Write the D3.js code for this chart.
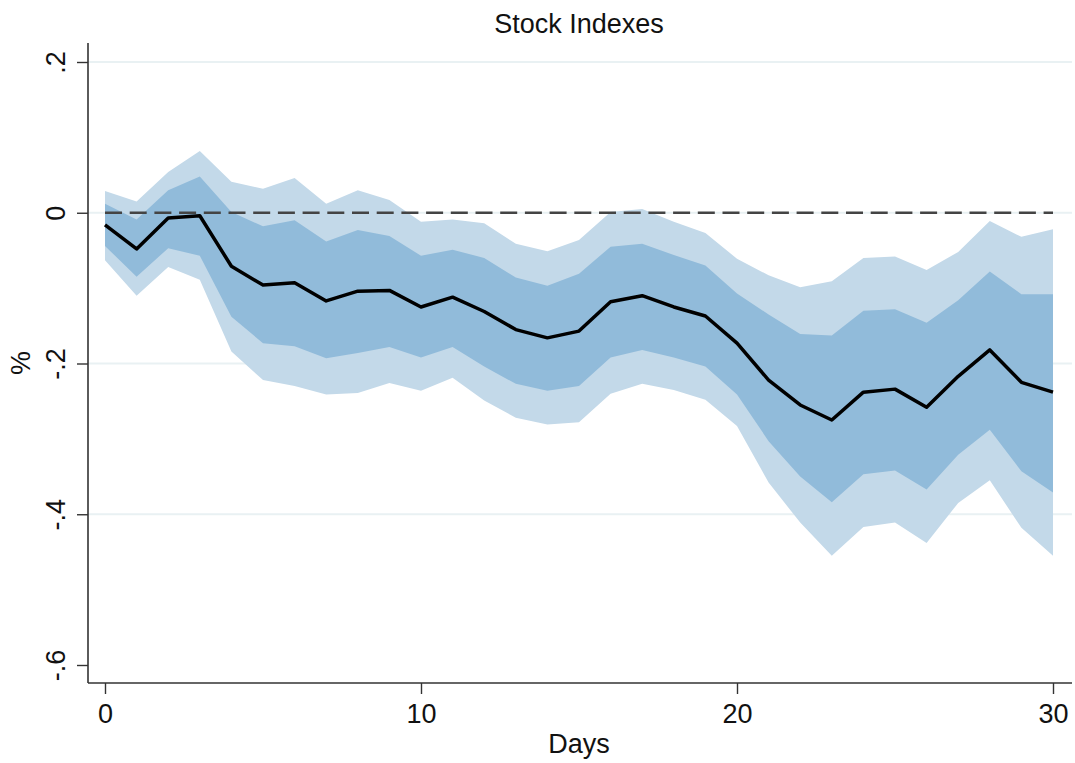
<!DOCTYPE html>
<html lang="en">
<head>
<meta charset="UTF-8">
<title>Stock Indexes</title>
<script src="https://d3js.org/d3.v7.min.js"></script>
<style>
  * { margin: 0; padding: 0; }
  body { background: #fff; font-family: "Liberation Sans", Arial, Helvetica, sans-serif; }
  svg text { fill: #111; }
</style>
</head>
<body>
<svg id="chart" width="1075" height="763"></svg>
<script>
// Days after the shock
const days = d3.range(0, 31);
// Point estimate (%)
const estimate = [-0.016, -0.048, -0.007, -0.004, -0.071, -0.096, -0.093, -0.117, -0.104, -0.103,
  -0.125, -0.112, -0.131, -0.155, -0.166, -0.157, -0.118, -0.110, -0.125, -0.137,
  -0.173, -0.222, -0.255, -0.275, -0.238, -0.234, -0.258, -0.217, -0.182, -0.225, -0.238];
// Inner band (darker)
const innerUpper = [0.012, -0.009, 0.030, 0.048, 0.001, -0.018, -0.010, -0.038, -0.023, -0.031,
  -0.057, -0.049, -0.060, -0.086, -0.097, -0.081, -0.045, -0.041, -0.056, -0.070,
  -0.107, -0.135, -0.161, -0.163, -0.130, -0.128, -0.146, -0.116, -0.078, -0.108, -0.108];
const innerLower = [-0.044, -0.085, -0.047, -0.057, -0.138, -0.173, -0.177, -0.193, -0.186, -0.178,
  -0.192, -0.178, -0.204, -0.227, -0.236, -0.230, -0.192, -0.182, -0.192, -0.204,
  -0.241, -0.303, -0.350, -0.384, -0.347, -0.342, -0.367, -0.321, -0.288, -0.343, -0.371];
// Outer band (lighter)
const outerUpper = [0.029, 0.015, 0.054, 0.082, 0.041, 0.032, 0.046, 0.012, 0.030, 0.017,
  -0.012, -0.009, -0.014, -0.041, -0.051, -0.036, 0.001, 0.005, -0.012, -0.027,
  -0.061, -0.083, -0.099, -0.091, -0.060, -0.058, -0.076, -0.052, -0.011, -0.032, -0.022];
const outerLower = [-0.063, -0.110, -0.072, -0.089, -0.184, -0.222, -0.230, -0.241, -0.239, -0.226,
  -0.236, -0.219, -0.249, -0.272, -0.281, -0.278, -0.240, -0.227, -0.235, -0.248,
  -0.283, -0.358, -0.411, -0.455, -0.417, -0.411, -0.438, -0.385, -0.355, -0.418, -0.455];

const xTicks = [0, 10, 20, 30];
const yTicks = [0.2, 0, -0.2, -0.4, -0.6];
const yTickLabels = ['.2', '0', '-.2', '-.4', '-.6'];
const gridValues = [0.2, 0, -0.2, -0.4];

const svg = d3.select('#chart');

// plot frame
const frame = { left: 88, right: 1072, top: 43, bottom: 683 };

const x = d3.scaleLinear().domain([0, 30]).range([105, 1053]);
const y = d3.scaleLinear().domain([-0.6, 0.2]).range([665, 62]);

// gridlines
svg.append('g').selectAll('line')
  .data(gridValues)
  .enter().append('line')
  .attr('x1', frame.left).attr('x2', frame.right)
  .attr('y1', d => y(d)).attr('y2', d => y(d))
  .attr('stroke', '#e9f1f3')
  .attr('stroke-width', 2);

const band = (lo, hi) => d3.area()
  .x((d, i) => x(days[i]))
  .y0((d, i) => y(lo[i]))
  .y1((d, i) => y(hi[i]));

svg.append('path')
  .datum(days)
  .attr('d', band(outerLower, outerUpper))
  .attr('fill', '#c3d9e9');

svg.append('path')
  .datum(days)
  .attr('d', band(innerLower, innerUpper))
  .attr('fill', '#91bbda');

// zero reference line
svg.append('line')
  .attr('x1', x(0)).attr('x2', x(30))
  .attr('y1', y(0)).attr('y2', y(0))
  .attr('stroke', '#444')
  .attr('stroke-width', 2.5)
  .attr('stroke-dasharray', '17 7.7');

const line = d3.line()
  .x((d, i) => x(days[i]))
  .y((d, i) => y(estimate[i]));

svg.append('path')
  .datum(days)
  .attr('d', line)
  .attr('fill', 'none')
  .attr('stroke', '#000')
  .attr('stroke-width', 3.5)
  .attr('stroke-linejoin', 'round');

// axes
const yAxis = d3.axisLeft(y)
  .tickValues(yTicks)
  .tickSize(11)
  .tickPadding(8)
  .tickFormat((d, i) => yTickLabels[i]);

const gy = svg.append('g')
  .attr('transform', `translate(${frame.left},0)`)
  .call(yAxis);
gy.select('.domain').remove();
gy.append('line')
  .attr('x1', 0).attr('x2', 0)
  .attr('y1', frame.top).attr('y2', frame.bottom)
  .attr('stroke', '#333').attr('stroke-width', 1.6);
gy.selectAll('.tick line').attr('stroke', '#333').attr('stroke-width', 1.4);
gy.selectAll('.tick text')
  .attr('font-size', 27)
  .attr('font-family', '"Liberation Sans", Arial, sans-serif')
  .attr('fill', '#111')
  .attr('text-anchor', 'middle')
  .attr('dy', 0)
  .attr('x', 0)
  .attr('transform', 'translate(-23,0) rotate(-90)');

const xAxis = d3.axisBottom(x)
  .tickValues(xTicks)
  .tickSize(11)
  .tickPadding(10)
  .tickFormat(d3.format('d'));

const gx = svg.append('g')
  .attr('transform', `translate(0,${frame.bottom})`)
  .call(xAxis);
gx.select('.domain').remove();
gx.append('line')
  .attr('x1', frame.left).attr('x2', frame.right)
  .attr('y1', 0).attr('y2', 0)
  .attr('stroke', '#333').attr('stroke-width', 1.6);
gx.selectAll('.tick line').attr('stroke', '#333').attr('stroke-width', 1.4);
gx.selectAll('.tick text')
  .attr('font-size', 27)
  .attr('font-family', '"Liberation Sans", Arial, sans-serif')
  .attr('fill', '#111')
  .attr('dy', 0)
  .attr('y', 39.5);

// titles
svg.append('text')
  .attr('x', 579).attr('y', 33)
  .attr('text-anchor', 'middle')
  .attr('font-size', 27)
  .text('Stock Indexes');

svg.append('text')
  .attr('x', 579).attr('y', 753)
  .attr('text-anchor', 'middle')
  .attr('font-size', 27)
  .text('Days');

svg.append('text')
  .attr('transform', 'translate(30,363) rotate(-90)')
  .attr('text-anchor', 'middle')
  .attr('font-size', 27)
  .text('%');
</script>
</body>
</html>
